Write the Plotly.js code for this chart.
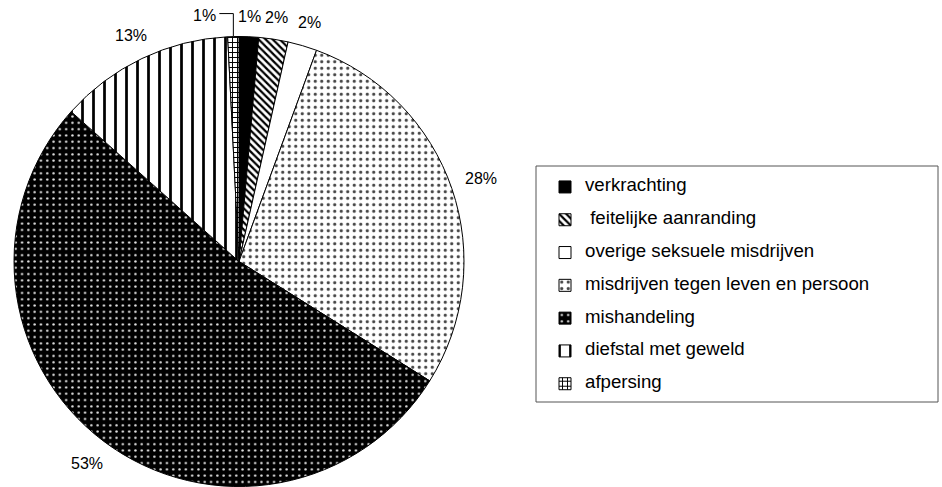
<!DOCTYPE html>
<html><head><meta charset="utf-8">
<script src="https://cdn.plot.ly/plotly-3.0.1.min.js"></script>
<style>html,body{margin:0;padding:0;background:#fff}#chart{width:942px;height:487px}</style>
</head><body><div id="chart"></div>
<script>
// ---- data ----
const categories = ['verkrachting', ' feitelijke aanranding', 'overige seksuele misdrijven',
  'misdrijven tegen leven en persoon', 'mishandeling', 'diefstal met geweld', 'afpersing'];
const shares = [1.4, 2.1, 2.1, 28.3, 52.7, 12.6, 0.8];

// ---- styles ----
const sliceColors = ['#000000', '#ffffff', '#ffffff', '#ffffff', '#000000', '#ffffff', '#ffffff'];
const patternShapes = ['', '\\', '', '.', '.', '|', '+'];
const patternFg = ['#000000', '#000000', '#ffffff', '#444444', '#e6e6e6', '#000000', '#000000'];
const patternBg = ['#000000', '#ffffff', '#ffffff', '#ffffff', '#000000', '#ffffff', '#ffffff'];
const patternSize = [8, 5, 8, 6.5, 6.3, 11, 5];
const patternSolidity = [0.3, 0.45, 0.3, 0.19, 0.12, 0.25, 0.35];

// ---- geometry ----
const W = 942, H = 487;
const CX = 239, CY = 261.5, R = 225;
const FONT = 'Liberation Sans, Arial, sans-serif';

const legendLabels = categories.map(c =>
  '<span style="font-size:18.67px">' + c.replace(/^ /, '&nbsp;') + '</span><br>&nbsp;');

const total = shares.reduce((a, b) => a + b, 0);
const annotations = [];
const shapes = [];
let cum = 0;
shares.forEach((v, i) => {
  const a0 = cum / total * 2 * Math.PI;
  const a1 = (cum + v) / total * 2 * Math.PI;
  cum += v;
  const mid = (a0 + a1) / 2;
  const s = Math.sin(mid), c = Math.cos(mid);
  const txt = Math.round(v / total * 100) + '%';
  if (i === shares.length - 1) {
    // leader-line label
    const ex = CX + R * s, ey = CY - R * c;
    const ly = ey - 23, lx = ex - 14;
    shapes.push({type: 'path', xref: 'paper', yref: 'paper',
      path: 'M' + (ex / W) + ',' + (1 - ey / H) + ' L' + (ex / W) + ',' + (1 - ly / H) + ' L' + (lx / W) + ',' + (1 - ly / H),
      line: {color: '#000', width: 1}});
    annotations.push({xref: 'paper', yref: 'paper', x: (lx - 1.5) / W, y: 1 - (ly + 2) / H,
      xanchor: 'right', yanchor: 'middle', text: txt, showarrow: false,
      font: {family: FONT, size: 16, color: '#000'}});
  } else {
    const D = R + 11 + Math.abs(s) * 18 + Math.abs(c) * 8;
    const px = CX + D * s, py = CY - D * c;
    annotations.push({xref: 'paper', yref: 'paper', x: px / W, y: 1 - py / H,
      xanchor: 'center', yanchor: 'middle', text: txt, showarrow: false,
      font: {family: FONT, size: 16, color: '#000'}});
  }
});

// legend box
shapes.push({type: 'rect', xref: 'paper', yref: 'paper',
  x0: 536 / W, x1: 938 / W, y0: 1 - 402 / H, y1: 1 - 166 / H,
  line: {color: '#555', width: 1}, fillcolor: 'rgba(0,0,0,0)'});

const trace = {
  type: 'pie',
  labels: legendLabels,
  values: shares,
  sort: false,
  direction: 'clockwise',
  rotation: 0,
  textinfo: 'none',
  hoverinfo: 'none',
  domain: {x: [(CX - R) / W, (CX + R) / W], y: [1 - (CY + R) / H, 1 - (CY - R) / H]},
  marker: {
    colors: sliceColors,
    line: {color: '#000', width: 1},
    pattern: {
      shape: patternShapes,
      fgcolor: patternFg,
      bgcolor: patternBg,
      size: patternSize,
      solidity: patternSolidity,
      fillmode: 'replace'
    }
  }
};

const layout = {
  width: W, height: H,
  margin: {l: 0, r: 0, t: 0, b: 0},
  paper_bgcolor: '#fff',
  showlegend: true,
  legend: {
    x: 545 / W, y: 1 - 173 / H, xanchor: 'left', yanchor: 'top',
    bgcolor: 'rgba(0,0,0,0)', borderwidth: 0,
    font: {family: FONT, size: 11.46, color: '#000'},
    valign: 'top', traceorder: 'normal'
  },
  annotations: annotations,
  shapes: shapes
};

Plotly.newPlot('chart', [trace], layout, {displayModeBar: false, staticPlot: true});
</script>
</body></html>
